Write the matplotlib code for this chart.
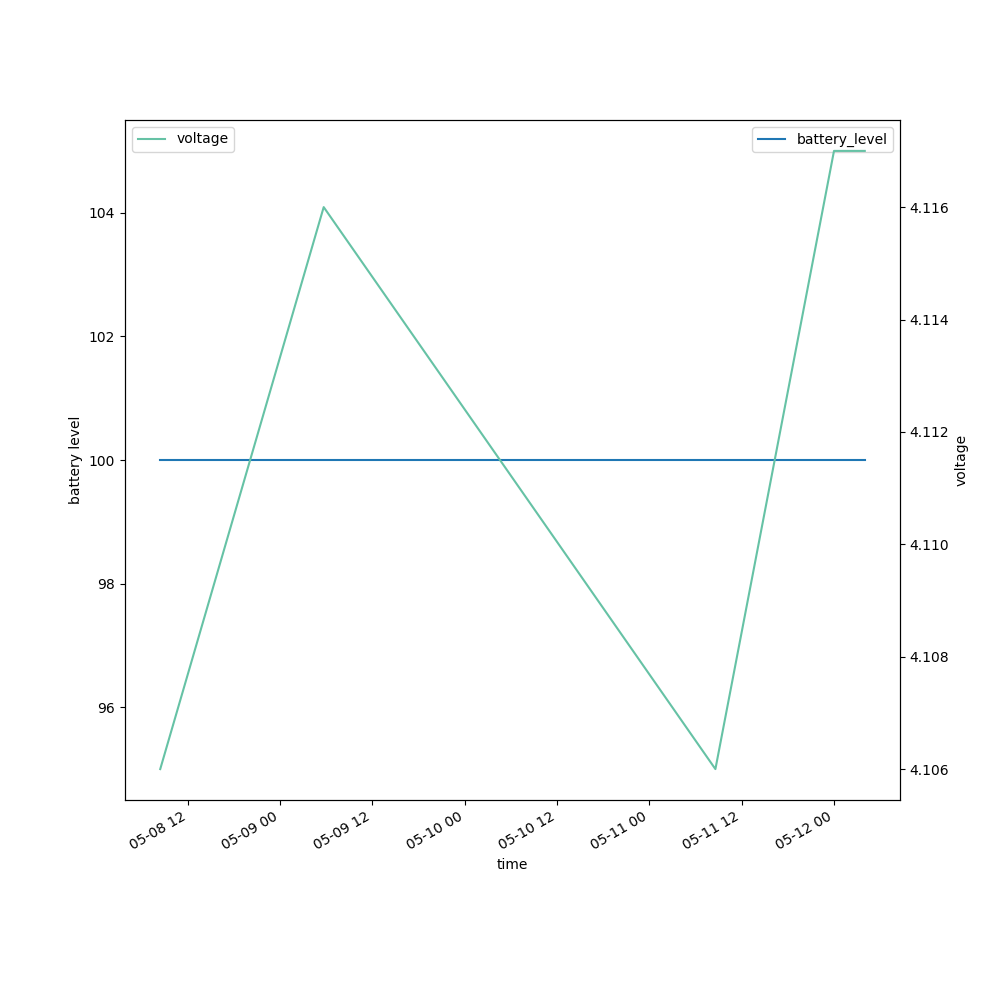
import matplotlib
matplotlib.use("Agg")
import matplotlib.pyplot as plt
import pandas as pd

# readings
time = pd.to_datetime([
    "2024-05-08 08:25",
    "2024-05-09 05:40",
    "2024-05-11 08:35",
    "2024-05-12 00:00",
    "2024-05-12 04:00",
])
battery_level = [100, 100, 100, 100, 100]
voltage = [4.106, 4.116, 4.106, 4.117, 4.117]

fig, ax = plt.subplots(figsize=(10, 10), dpi=100)
ax.plot(time, battery_level, color="#1f77b4", label="battery_level")
ax.set_xlabel("time")
ax.set_ylabel("battery level")
ax.legend(loc="upper right")

# second axis for voltage
ax2 = ax.twinx()
ax2.plot(time, voltage, color="#66c2a5", label="voltage")
ax2.set_ylabel("voltage")
ax2.legend(loc="upper left")

fig.autofmt_xdate()
fig.savefig("out.png")
